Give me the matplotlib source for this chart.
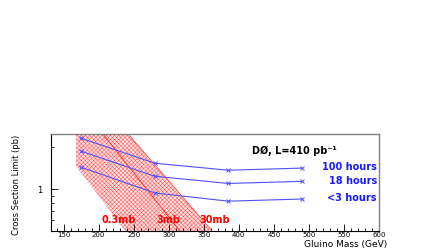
import matplotlib
matplotlib.use("Agg")
import matplotlib.pyplot as plt
from matplotlib.ticker import MultipleLocator, FixedLocator, NullFormatter, LogLocator
from matplotlib.patches import Rectangle
import numpy as np

# Data
masses = [175, 280, 385, 490]
limit_100h = [2.33, 1.54, 1.37, 1.42]
limit_18h = [1.88, 1.24, 1.10, 1.14]
limit_3h = [1.44, 0.94, 0.82, 0.85]
series_labels = ["100 hours", "18 hours", "<3 hours"]

# Theory band edges (mass at y_top, mass at y_bottom)
band_y = [2.5, 0.5]
band_left = [133, 238]     # 0.3mb edge
band_mid = [206, 316]      # 3mb line
band_right = [242, 362]    # 30mb edge
band_min_mass = 168
band_labels = ["0.3mb", "3mb", "30mb"]
band_label_x = [229, 300, 366]

plt.rcParams['hatch.linewidth'] = 0.35
fig = plt.figure(figsize=(4.43, 2.49), dpi=100)
ax = fig.add_axes([0.1151, 0.0723, 0.7404, 0.3896])
ax.set_yscale("log")
ax.set_xlim(132, 600)
ax.set_ylim(0.5, 2.5)

# hatched band
poly = ax.fill([band_left[0], band_right[0], band_right[1], band_left[1]],
               [band_y[0], band_y[0], band_y[1], band_y[1]],
               facecolor="#ffe4e4", edgecolor="#ff5050", hatch="xxxxxxxx",
               linewidth=0, zorder=1)[0]
clip = Rectangle((band_min_mass, 0.01), 1000, 100, transform=ax.transData)
poly.set_clip_path(clip)
ax.plot(band_mid, band_y, color="#ff2020", lw=0.6, zorder=2)
ax.plot(band_right, band_y, color="#ff3030", lw=0.5, zorder=2)

for lab, xm in zip(band_labels, band_label_x):
    ax.text(xm, 0.6, lab, color="#ff0000", fontsize=7, fontweight="bold",
            ha="center", va="center", zorder=5)

blue = "#5050ff"
for vals in (limit_100h, limit_18h, limit_3h):
    ax.plot(masses, vals, color=blue, lw=0.8, marker="x", ms=2.5, mew=0.7, zorder=3)

for lab, vals in zip(series_labels, (limit_100h, limit_18h, limit_3h)):
    ax.text(597, vals[-1] * 1.01, lab, color="#1a1aff", fontsize=7,
            fontweight="bold", ha="right", va="center", zorder=5)

ax.text(479, 1.88, "DØ, L=410 pb⁻¹", color="black", fontsize=7,
        fontweight="bold", ha="center", va="center")

# axes styling
ax.xaxis.set_major_locator(MultipleLocator(50))
ax.xaxis.set_minor_locator(MultipleLocator(10))
ax.yaxis.set_major_locator(FixedLocator([1]))
ax.yaxis.set_major_formatter(plt.FixedFormatter(["1"]))
ax.yaxis.set_minor_locator(LogLocator(base=10, subs=np.arange(2, 10) * 1.0))
ax.yaxis.set_minor_formatter(NullFormatter())
ax.tick_params(axis="both", which="major", direction="in", length=5, width=0.6,
               labelsize=5, top=False, right=False)
ax.tick_params(axis="both", which="minor", direction="in", length=2.5, width=0.6,
               top=False, right=False)
ax.tick_params(axis="x", pad=0.5)
ax.tick_params(axis="y", pad=6, labelsize=6)
for s in ("top", "right"):
    ax.spines[s].set_color("#808080")
    ax.spines[s].set_linewidth(1.0)
for s in ("left", "bottom"):
    ax.spines[s].set_color("black")
    ax.spines[s].set_linewidth(0.8)

ax.set_xlabel("Gluino Mass (GeV)", fontsize=6.5)
ax.xaxis.set_label_coords(1.024, -0.17)
ax.xaxis.label.set_horizontalalignment("right")
ax.xaxis.label.set_verticalalignment("baseline")
ax.set_ylabel("Cross Section Limit (pb)", fontsize=6,
              family=["Liberation Sans Narrow", "DejaVu Sans"])
ax.yaxis.set_label_coords(-0.09, 0.48)

fig.savefig("out.png", dpi=100)
